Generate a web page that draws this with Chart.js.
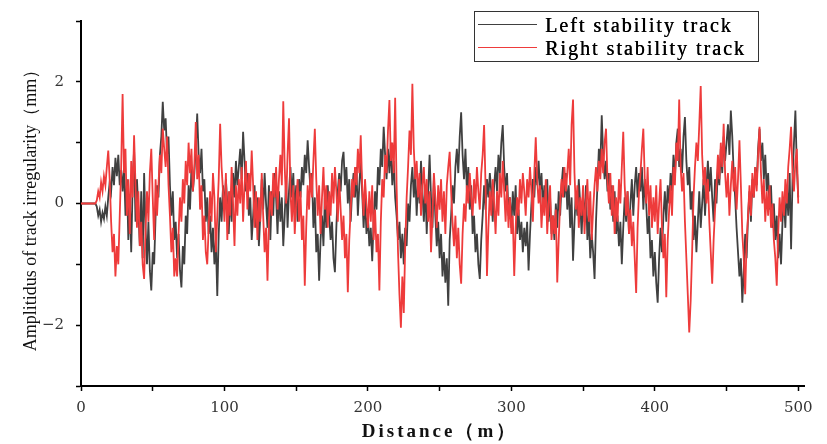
<!DOCTYPE html>
<html>
<head>
<meta charset="utf-8">
<script src="https://cdn.jsdelivr.net/npm/chart.js@4.4.1/dist/chart.umd.min.js"></script>
<style>
  html, body { margin: 0; padding: 0; background: #fff; }
  #wrap { position: relative; width: 827px; height: 444px; }
</style>
</head>
<body>
<div id="wrap"><canvas id="trackChart"></canvas></div>
<script>
// track irregularity, one sample per metre from 0 m to 500 m
const seriesNames = ['Left stability track', 'Right stability track'];
const sampleStep = 1;
const xTickMarks = [0, 50, 100, 150, 200, 250, 300, 350, 400, 450, 500];
const xTickLabels = [0, 100, 200, 300, 400, 500];
const yTickLabels = [-2, 0, 2];

const leftTrack = [
  0, 0, 0, 0, 0, 0, 0, 0, 0, 0,
  0, -0.05, -0.2, -0.1, -0.3, -0.15, -0.25, -0.05, -0.2, 0.1,
  0.35, 0.2, 0.6, 0.3, 0.75, 0.45, 0.8, 0.3, 0.55, 0.2,
  0.6, -0.2, 0.4, -0.6, 0.1, -0.8, 0.3, 0.9, -0.3, 0.4,
  -0.1, -0.7, 0.2, -0.9, 0.5, -0.4, -1.0, -0.3, -1.1, -1.43,
  -0.8, -1.0, -0.2, 0.3, 0.1, 0.8, 1.1, 1.67, 1.2, 1.4,
  0.8, 1.1, 0.3, -0.2, 0.2, -0.6, -0.3, -0.9, -0.5, -1.1,
  -1.38, -0.7, -1.0, -0.2, -0.5, 0.3, -0.1, 0.6, 0.2, 0.5,
  0.9, 1.48, 0.8, 0.5, 0.9, 0.2, 0.4, -0.3, 0.1, -0.5,
  -0.2, -0.8, -0.4, -1.0, -0.6, -1.52, -0.5, 0.1, -0.3, 0.3,
  -0.1, 0.4, 0.0, -0.5, 0.2, -0.3, 0.5, 0.1, 0.7, 0.3,
  0.6, 0.9, 0.4, 1.18, 0.7, 0.2, 0.5, -0.2, 0.1, -0.6,
  -0.2, 0.3, -0.4, 0.1, -0.7, -0.2, 0.4, -0.1, 0.5, 0.0,
  -0.4, 0.3, -0.6, 0.2, -0.2, 0.5, 0.1, -0.5, 0.2, -0.3,
  0.1, -0.7, -0.2, 0.4, -0.4, 0.2, 0.6, 0.1, 0.5, -0.2,
  0.3, -0.3, 0.4, 0.1, 0.6, 0.3, 0.8, 0.5, 1.04, 0.6,
  0.2, 0.5, -0.4, 0.1, -0.8, -0.5, -1.27, -0.6, -0.2, -0.7,
  0.1, -0.4, 0.3, -0.2, -0.6, -0.3, -0.9, -1.13, -0.4, 0.2,
  0.5, 0.2, 0.7, 0.85, 0.3, 0.6, 0.0, 0.4, -0.3, 0.2,
  0.5, 0.1, 0.6, -0.2, 0.3, 0.7, 0.2, -0.4, 0.1, -0.5,
  -0.2, -0.7, -0.4, -0.95, -0.3, 0.2, -0.1, 0.6, 0.3, 0.9,
  0.6, 1.26, 0.8, 0.4, 0.9, 0.5, 1.0, 0.3, 0.7, 0.1,
  -0.2, -0.6, -0.3, -0.9, -0.5, -1.0, -0.4, -0.7, 0.0, -0.3,
  0.3, 0.6, 0.1, 0.5, -0.2, 0.4, 0.0, 0.7, 0.2, -0.3,
  0.3, -0.5, 0.2, 0.8, 0.1, -0.4, 0.4, -0.2, -0.7, -0.3,
  -0.9, -0.5, -1.2, -0.8, -1.3, -0.9, -1.68, -0.6, -0.2, 0.3,
  0.0, 0.6, 0.9, 0.5, 1.1, 1.5, 0.8, 0.4, 0.9, 0.2,
  0.6, -0.1, 0.3, -0.5, -0.2, -0.8, -0.5, -1.0, -1.24, -0.6,
  -0.2, 0.3, -0.1, 0.4, 0.1, 0.5, 0.2, -0.3, 0.3, 0.6,
  0.2, 0.8, 0.5, 1.0, 1.29, 0.6, 0.2, 0.5, -0.2, 0.1,
  -0.4, 0.2, -0.2, 0.3, -0.5, -0.1, -0.6, -0.3, -0.8, -0.4,
  -0.7, -0.3, -1.1, -0.5, 0.0, 0.4, 0.1, 0.6, 0.3, 0.7,
  0.2, 0.5, -0.1, 0.3, 0.0, 0.4, -0.3, 0.1, -0.5, -0.2,
  -0.6, 0.0, -0.4, 0.2, -0.2, 0.3, 0.6, 0.1, 0.5, -0.1,
  0.3, -0.4, 0.1, -0.94, -0.3, 0.2, -0.2, 0.4, 0.0, -0.5,
  0.1, -0.3, 0.3, -0.6, -0.2, -0.9, -0.5, -0.8, -1.24, -0.3,
  0.3, 0.9, 0.6, 1.45, 0.8, 0.4, 0.7, 0.2, 0.5, -0.1,
  0.3, -0.3, 0.2, -0.5, -0.2, -0.7, -0.3, -1.0, -0.4, 0.1,
  -0.3, 0.2, -0.5, 0.0, 0.4, -0.2, 0.3, 0.6, 0.1, 0.5,
  0.2, 0.6, -0.1, 0.4, 0.0, -0.5, -0.2, -0.9, -0.6, -1.2,
  -0.8, -1.3, -1.63, -0.9, -0.4, -0.8, -0.2, 0.2, -0.3, 0.3,
  0.0, 0.5, 0.2, 0.8, 0.4, 1.0, 1.23, 0.6, 0.9, 0.5,
  1.1, 1.42, 0.7, 0.3, 0.6, -0.1, 0.2, -0.6, -0.2, -0.8,
  -0.3, 0.2, -0.4, 0.0, 0.4, -0.2, 0.3, 0.7, 0.2, 0.6,
  0.1, -0.3, 0.4, 0.0, 0.6, 0.3, 0.9, 0.5, 1.1, 0.7,
  1.0, 1.3, 0.8, 1.53, 1.1, 0.5, 0.1, -0.4, -0.8, -1.2,
  -0.9, -1.63, -1.1, -0.5, -0.9, -0.2, 0.2, -0.3, 0.4, 0.1,
  0.6, 0.3, 0.9, 1.23, 0.7, 1.0, 0.4, 0.8, 0.2, 0.5,
  -0.1, 0.3, -0.4, 0.0, -0.6, -0.2, -0.9, -0.5, -1.0, -0.3,
  0.1, -0.4, 0.3, -0.2, 0.5, -0.75, 0.4, 1.0, 1.53, 0.6,
  0.1
];

const rightTrack = [
  0, 0, 0, 0, 0, 0, 0, 0, 0, 0,
  0, 0.05, 0.2, 0.1, 0.35, 0.2, 0.45, 0.3, 0.6, 0.87,
  0.4, -0.3, -0.8, -0.5, -1.2, -0.7, -1.0, -0.2, 0.6, 1.8,
  0.5, 0.9, -0.2, 0.4, -0.5, 0.7, 0.1, 1.12, 0.3, -0.4,
  0.2, -0.7, -0.3, -1.0, -1.24, -0.4, 0.2, -0.3, 0.5, 0.9,
  0.1, -0.6, 0.4, -0.2, 0.3, 0.8, 0.5, 1.23, 0.9, 0.6,
  1.1, 0.3, -0.2, -0.8, -0.4, -1.2, -0.9, -1.2, -0.5, 0.1,
  -0.3, 0.4, 0.0, 0.7, 0.3, 1.0, 0.5, 0.9, 0.2, 0.6,
  1.34, 0.4, 0.8, -0.1, 0.3, -0.6, -0.2, -0.8, -1.0, -0.4,
  0.2, -0.3, 0.5, 0.1, -0.8, -0.2, 0.4, 1.31, 0.6, 0.2,
  -0.3, 0.5, -0.6, 0.2, -0.2, 0.6, 0.0, -0.7, 0.3, -0.2,
  0.4, 0.0, 0.6, -0.3, 0.3, 0.7, -0.1, 0.5, 0.2, 0.87,
  0.3, -0.4, 0.2, -0.6, 0.1, -0.3, 0.5, -0.2, -0.8, -0.4,
  -1.27, -0.3, 0.2, -0.2, 0.5, 0.1, 0.6, -0.1, 0.4, 0.8,
  0.3, 1.68, 0.6, 0.0, 0.8, 1.4, 0.2, -0.3, 0.3, -0.5,
  0.0, 0.4, -0.3, 0.2, -0.6, -0.2, -1.35, -0.4, 0.3, -0.1,
  0.5, 0.1, 0.7, 1.23, 0.4, -0.2, 0.3, -0.5, 0.1, 0.6,
  -0.1, 0.3, -0.4, 0.2, -0.2, 0.5, 0.0, 0.6, 0.2, -0.3,
  0.4, -0.1, -0.6, -0.2, -0.9, -0.5, -1.46, -0.6, -0.1, 0.4,
  0.1, 0.6, 0.3, 0.9, 0.5, 1.12, 0.3, -0.2, 0.4, 0.0,
  -0.4, 0.2, -0.3, 0.3, -0.6, -0.1, -0.8, -0.5, -1.43, -0.3,
  0.4, 0.1, 0.8, 0.5, 1.2, 1.7, 0.7, 1.0, 0.5, 1.74,
  0.3, -0.8, -1.5, -2.04, -1.2, -1.8, -0.7, 0.1, 0.6, 1.2,
  0.8, 1.97, 0.9, 0.4, 0.7, 0.1, 0.5, -0.2, 0.3, 0.6,
  0.0, 0.4, -0.3, 0.2, -0.8, -0.2, 0.5, 0.1, -0.4, 0.3,
  -0.1, 0.4, -0.3, 0.2, -0.5, 0.3, 0.6, 0.85, 0.2, -0.3,
  -0.7, -0.2, -0.9, -0.4, -1.0, -1.32, -0.5, 0.0, -0.3, 0.3,
  0.0, 0.5, 0.1, -0.2, 0.4, 0.0, 0.6, 0.2, -0.1, 0.5,
  0.8, 1.29, 0.3, -1.19, -0.4, 0.2, -0.2, 0.4, 0.0, -0.5,
  0.2, -0.2, 0.5, 0.1, 0.7, 0.2, -0.3, 0.3, -0.4, 0.1,
  -0.5, -0.2, -1.19, -0.4, 0.1, -0.2, 0.4, 0.0, 0.5, 0.2,
  -0.2, 0.4, 0.1, 0.6, 0.2, -0.3, 0.5, 1.09, 0.4, 0.0,
  0.3, -0.4, 0.1, -0.2, 0.4, -0.5, 0.0, 0.3, -0.6, -0.2,
  -0.5, -0.1, -1.3, -0.6, 0.0, 0.4, 0.1, 0.6, 0.2, 0.5,
  0.9, 0.3, 1.3, 1.71, 0.5, -0.1, 0.3, -0.4, 0.1, -0.2,
  0.3, -0.5, 0.0, 0.4, -0.3, 0.2, -0.6, -0.1, 0.3, 0.6,
  0.2, 0.7, 0.4, 0.9, 0.5, 1.0, 1.23, 0.4, 0.0, 0.5,
  -0.2, 0.3, -0.5, 0.1, -0.3, 0.4, 0.0, 0.6, 1.18, 0.3,
  -0.2, 0.2, -0.5, -0.1, -0.7, -0.3, -0.9, -1.47, -0.4, 0.2,
  0.5, 0.9, 1.23, 0.4, 0.0, 0.6, -0.2, 0.3, -0.4, 0.1,
  -0.3, 0.3, -0.5, 0.0, 0.4, -0.4, -0.9, -0.5, -1.54, -0.6,
  -0.1, 0.3, -0.2, 0.6, 0.3, 1.0, 0.7, 1.71, 0.6, 0.2,
  0.5, -0.3, -0.9, -1.5, -2.12, -1.6, -0.8, 0.1, 0.6, 1.0,
  0.7, 1.3, 1.93, 0.8, 0.3, 0.6, 0.0, 0.4, -0.3, -0.8,
  -1.32, -0.6, -0.1, 0.3, 0.8, 0.4, 1.0, 0.6, 1.31, 0.5,
  0.1, 0.5, -0.2, 0.3, 0.7, 0.2, 0.6, -0.1, 0.4, 1.04,
  0.3, -0.5, -0.9, -1.49, -0.6, -0.2, 0.3, -0.2, 0.5, 0.1,
  0.6, 0.2, 0.8, 1.26, 0.5, 0.0, 0.4, -0.3, 0.2, -0.2,
  0.3, -0.4, 0.0, -0.6, -0.9, -1.35, -0.5, 0.1, -0.3, 0.2,
  -0.2, 0.4, 0.0, 0.6, 0.9, 1.26, 0.5, 0.2, 0.7, 0.9,
  0.0
];

const seriesColors = ['#404040', '#ee3b3b'];

function toPoints(values) {
  return values.map((v, i) => ({ x: i * sampleStep, y: v }));
}

// legend box and axis titles, drawn with a bit of letter spacing like the original
const decorations = {
  id: 'decorations',
  afterDraw(chart) {
    const ctx = chart.ctx;
    ctx.save();

    ctx.fillStyle = '#fff';
    ctx.fillRect(474, 11, 284, 50);
    ctx.strokeStyle = '#333';
    ctx.lineWidth = 1;
    ctx.strokeRect(474.5, 11.5, 284, 50);

    const rows = [24.5, 47.5];
    ctx.font = '20px "Liberation Serif"';
    ctx.letterSpacing = '2px';
    ctx.textAlign = 'left';
    ctx.textBaseline = 'alphabetic';
    seriesNames.forEach((name, i) => {
      ctx.strokeStyle = seriesColors[i];
      ctx.lineWidth = 1.2;
      ctx.beginPath();
      ctx.moveTo(478, rows[i]);
      ctx.lineTo(537, rows[i]);
      ctx.stroke();
      ctx.fillStyle = '#000';
      ctx.fillText(name, 545, rows[i] + 7.5);
      ctx.fillText(name, 545.4, rows[i] + 7.5);
    });

    // x title
    ctx.font = 'bold 19px "Liberation Serif"';
    ctx.letterSpacing = '3px';
    ctx.textAlign = 'center';
    ctx.fillStyle = '#111';
    ctx.fillText('Distance（m）', 440, 437);

    // y title
    ctx.letterSpacing = '0px';
    ctx.font = '18px "Liberation Serif"';
    ctx.translate(31, 206);
    ctx.rotate(-Math.PI / 2);
    ctx.textBaseline = 'middle';
    ctx.fillText('Amplitidus of track irregularity（mm）', 0, 0);

    ctx.restore();
  }
};

const tickFont = { family: '"DejaVu Serif"', size: 15 };

new Chart(document.getElementById('trackChart'), {
  type: 'line',
  data: {
    datasets: [
      {
        label: seriesNames[0],
        data: toPoints(leftTrack),
        borderColor: seriesColors[0],
        borderWidth: 1.8,
        pointRadius: 0,
        tension: 0,
        order: 2
      },
      {
        label: seriesNames[1],
        data: toPoints(rightTrack),
        borderColor: seriesColors[1],
        borderWidth: 1.8,
        pointRadius: 0,
        tension: 0,
        order: 1
      }
    ]
  },
  options: {
    responsive: true,
    maintainAspectRatio: false,
    animation: false,
    parsing: false,
    layout: { padding: { top: 20, right: 23, bottom: 0, left: 0 } },
    plugins: {
      legend: { display: false },
      tooltip: { enabled: false }
    },
    scales: {
      x: {
        type: 'linear',
        min: 0,
        max: 504,
        border: { display: true, color: '#000', width: 2 },
        grid: { drawOnChartArea: false, drawTicks: true, tickLength: 5, tickColor: '#000', tickWidth: 1.5 },
        ticks: {
          autoSkip: false,
          maxRotation: 0,
          padding: 8,
          color: '#333',
          font: tickFont,
          callback: (v) => xTickLabels.includes(v) ? String(v) : ''
        },
        afterBuildTicks: (axis) => {
          axis.ticks = xTickMarks.map(v => ({ value: v }));
        },
        afterFit: (s) => { s.height = 58; }
      },
      y: {
        min: -3,
        max: 3,
        border: { display: true, color: '#000', width: 2 },
        grid: { drawOnChartArea: false, drawTicks: true, tickLength: 5, tickColor: '#000', tickWidth: 1.5 },
        ticks: {
          stepSize: 1,
          autoSkip: false,
          padding: 12,
          color: '#333',
          font: tickFont,
          callback: (v) => yTickLabels.includes(v) ? (v < 0 ? '\u2212' + Math.abs(v) : String(v)) : ''
        },
        afterFit: (s) => { s.width = 81; }
      }
    }
  },
  plugins: [decorations]
});
</script>
</body>
</html>
